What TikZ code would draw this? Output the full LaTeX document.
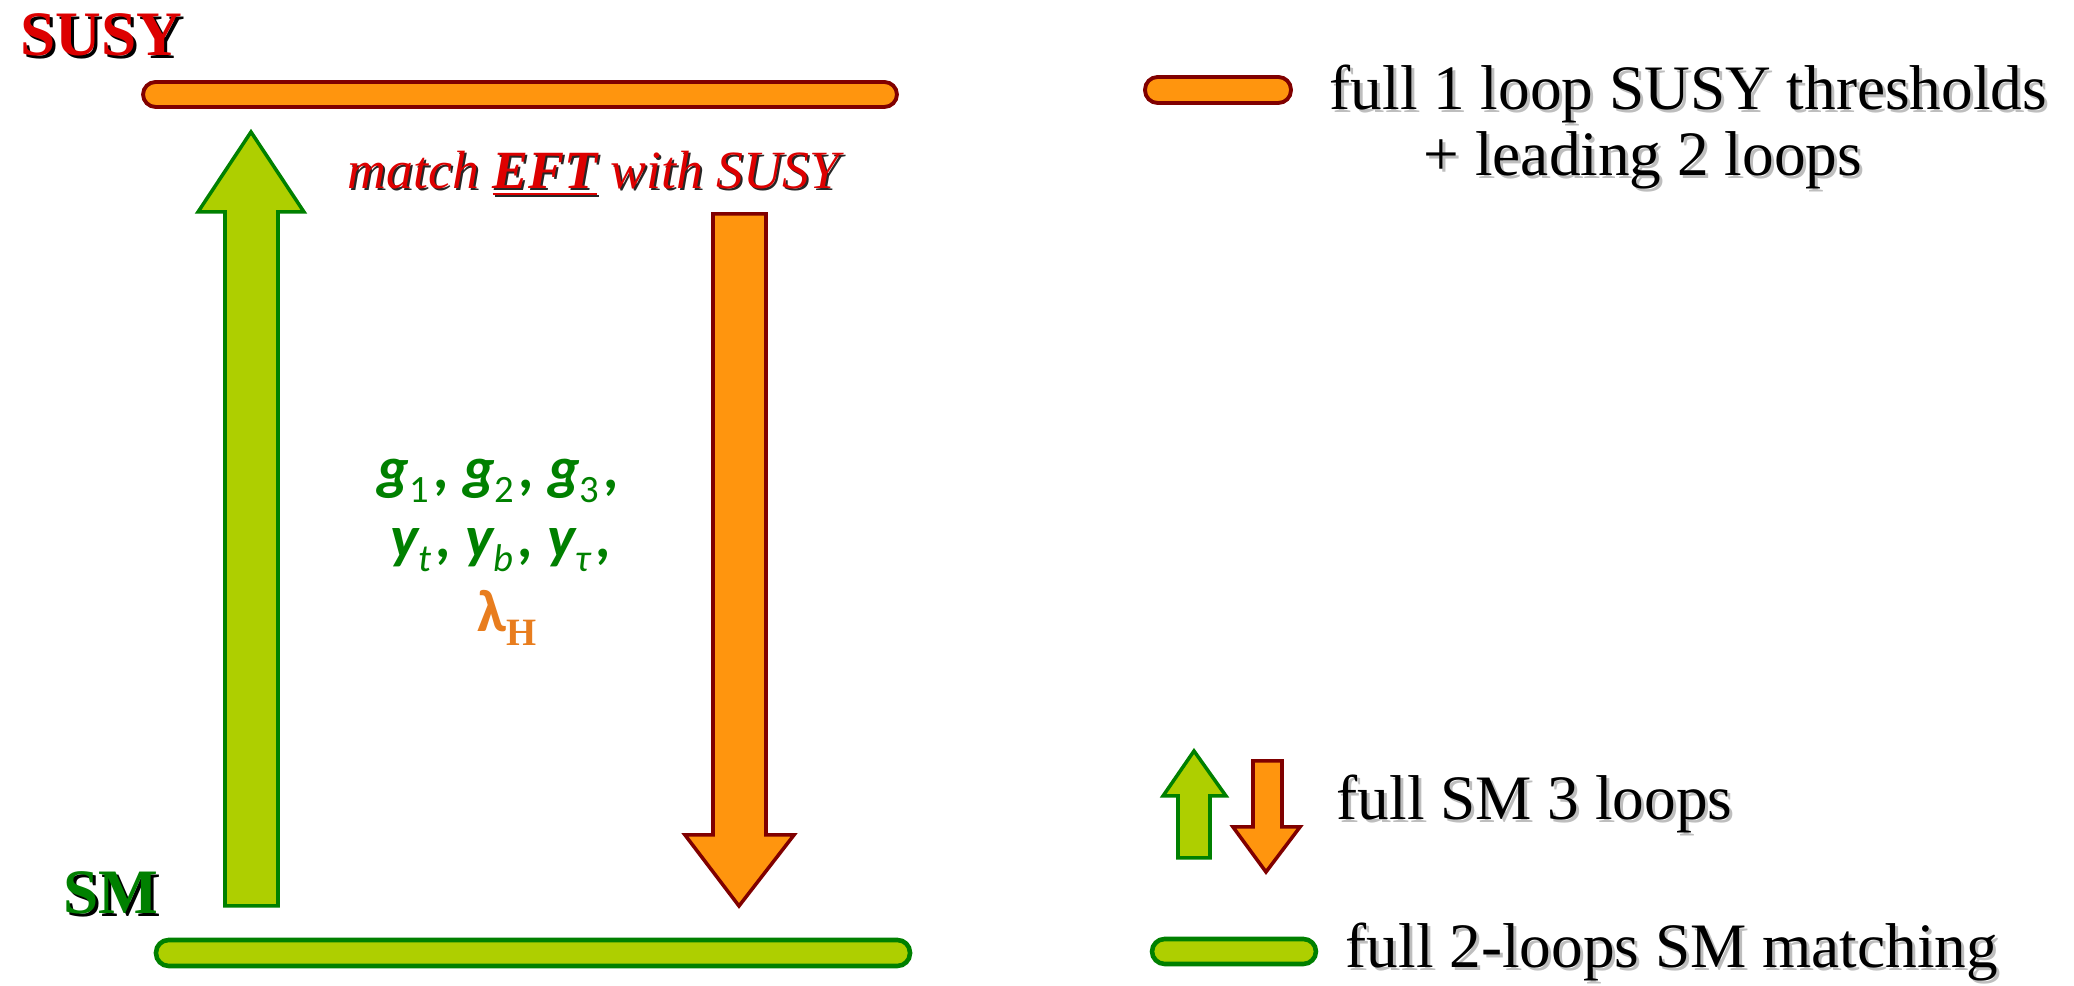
\documentclass[tikz,border=0pt]{standalone}
\usepackage{fontspec}
\setmainfont{Liberation Serif}
\newfontfamily\labfont{Carlito}
\definecolor{barorange}{RGB}{255,149,14}
\definecolor{bardred}{RGB}{128,0,0}
\definecolor{bargreen}{RGB}{174,207,0}
\definecolor{darkgreen}{RGB}{0,128,0}
\definecolor{titlered}{RGB}{221,0,0}
\definecolor{lamorange}{RGB}{232,125,30}
\definecolor{shadowgray}{RGB}{190,190,190}
\newcommand\bigtxt{\fontsize{18}{22}\selectfont}
\newcommand\midtxt{\fontsize{15.3}{19}\selectfont}
\newcommand\labtxt{\fontsize{17}{20}\selectfont}
\newcommand\lsub[1]{\raisebox{-0.45ex}{\fontsize{11}{12}\selectfont\mdseries #1}}
\tikzset{
  txt/.style={inner sep=0pt, anchor=base west},
  ctxt/.style={inner sep=0pt, anchor=base},
  orangebar/.style={draw=bardred, fill=barorange, line width=1.1pt, rounded corners=3.6pt},
  greenbar/.style={draw=darkgreen, fill=bargreen, line width=1.3pt, rounded corners=3.6pt},
  uparrow/.style={draw=darkgreen, fill=bargreen, line width=1pt, line join=miter},
  downarrow/.style={draw=bardred, fill=barorange, line width=1pt, line join=miter},
}
\begin{document}
\begin{tikzpicture}[x=0.01cm,y=-0.01cm]
\useasboundingbox (0,0) rectangle (2074,986);

% scale labels
\node[txt, text=black] (susyS) at (23,59) {\bigtxt\bfseries SUSY};
\node[txt, text=titlered] (susy) at (20,56) {\bigtxt\bfseries SUSY};
\node[txt, text=black] (smS) at (66,917) {\bigtxt\bfseries SM};
\node[txt, text=darkgreen] (sm) at (63,914) {\bigtxt\bfseries SM};

% threshold bars
\draw[orangebar] (143,82) rectangle (897,107);
\draw[greenbar] (156,940) rectangle (910,966);

% running arrows
\draw[uparrow] (251,132) -- (304,212) -- (278,212) -- (278,906) -- (225,906) -- (225,212) -- (198,212) -- cycle;
\draw[downarrow] (713,214) -- (766,214) -- (766,835) -- (794,835) -- (739,906) -- (685,835) -- (713,835) -- cycle;

% matching label
\node[txt, text=black!85] (matchS) at (349,191) {\midtxt\itshape match \underline{\bfseries EFT} with SUSY};
\node[txt, text=titlered] (match) at (347,189) {\midtxt\itshape match \underline{\bfseries EFT} with SUSY};

% couplings
\node[ctxt, text=darkgreen] (gauge) at (499,489) {\labtxt\labfont\bfseries\itshape g\lsub{\upshape 1}\kern1.5pt, g\lsub{\upshape 2}\kern1.5pt, g\lsub{\upshape 3}\kern1.5pt,};
\node[ctxt, text=darkgreen] (yuk) at (501,558) {\labtxt\labfont\bfseries\itshape y\lsub{t}\kern1.5pt, y\lsub{b}\kern1.5pt, y\lsub{τ}\kern1.5pt,};
\node[ctxt, text=lamorange] (lam) at (507,632) {\labtxt\labfont\bfseries λ\lsub{\rmfamily\bfseries H}};

% legend
\draw[orangebar] (1145,77) rectangle (1291,103);
\node[txt, text=shadowgray] (l1S) at (1332,113) {\bigtxt full 1 loop SUSY thresholds};
\node[txt] (l1) at (1329,110) {\bigtxt full 1 loop SUSY thresholds};
\node[txt, text=shadowgray] (l2S) at (1426,179) {\bigtxt + leading 2 loops};
\node[txt] (l2) at (1423,176) {\bigtxt + leading 2 loops};

\draw[uparrow] (1194,751) -- (1226,796) -- (1210,796) -- (1210,858) -- (1178,858) -- (1178,796) -- (1163,796) -- cycle;
\draw[downarrow] (1253,761) -- (1282,761) -- (1282,827) -- (1300,827) -- (1266,872) -- (1233,827) -- (1253,827) -- cycle;
\node[txt, text=shadowgray] (l3S) at (1339,823) {\bigtxt full SM 3 loops};
\node[txt] (l3) at (1336,820) {\bigtxt full SM 3 loops};

\draw[greenbar] (1152,939) rectangle (1316,964);
\node[txt, text=shadowgray] (l4S) at (1348,971) {\bigtxt full 2-loops SM matching};
\node[txt] (l4) at (1345,968) {\bigtxt full 2-loops SM matching};
\end{tikzpicture}
\end{document}
